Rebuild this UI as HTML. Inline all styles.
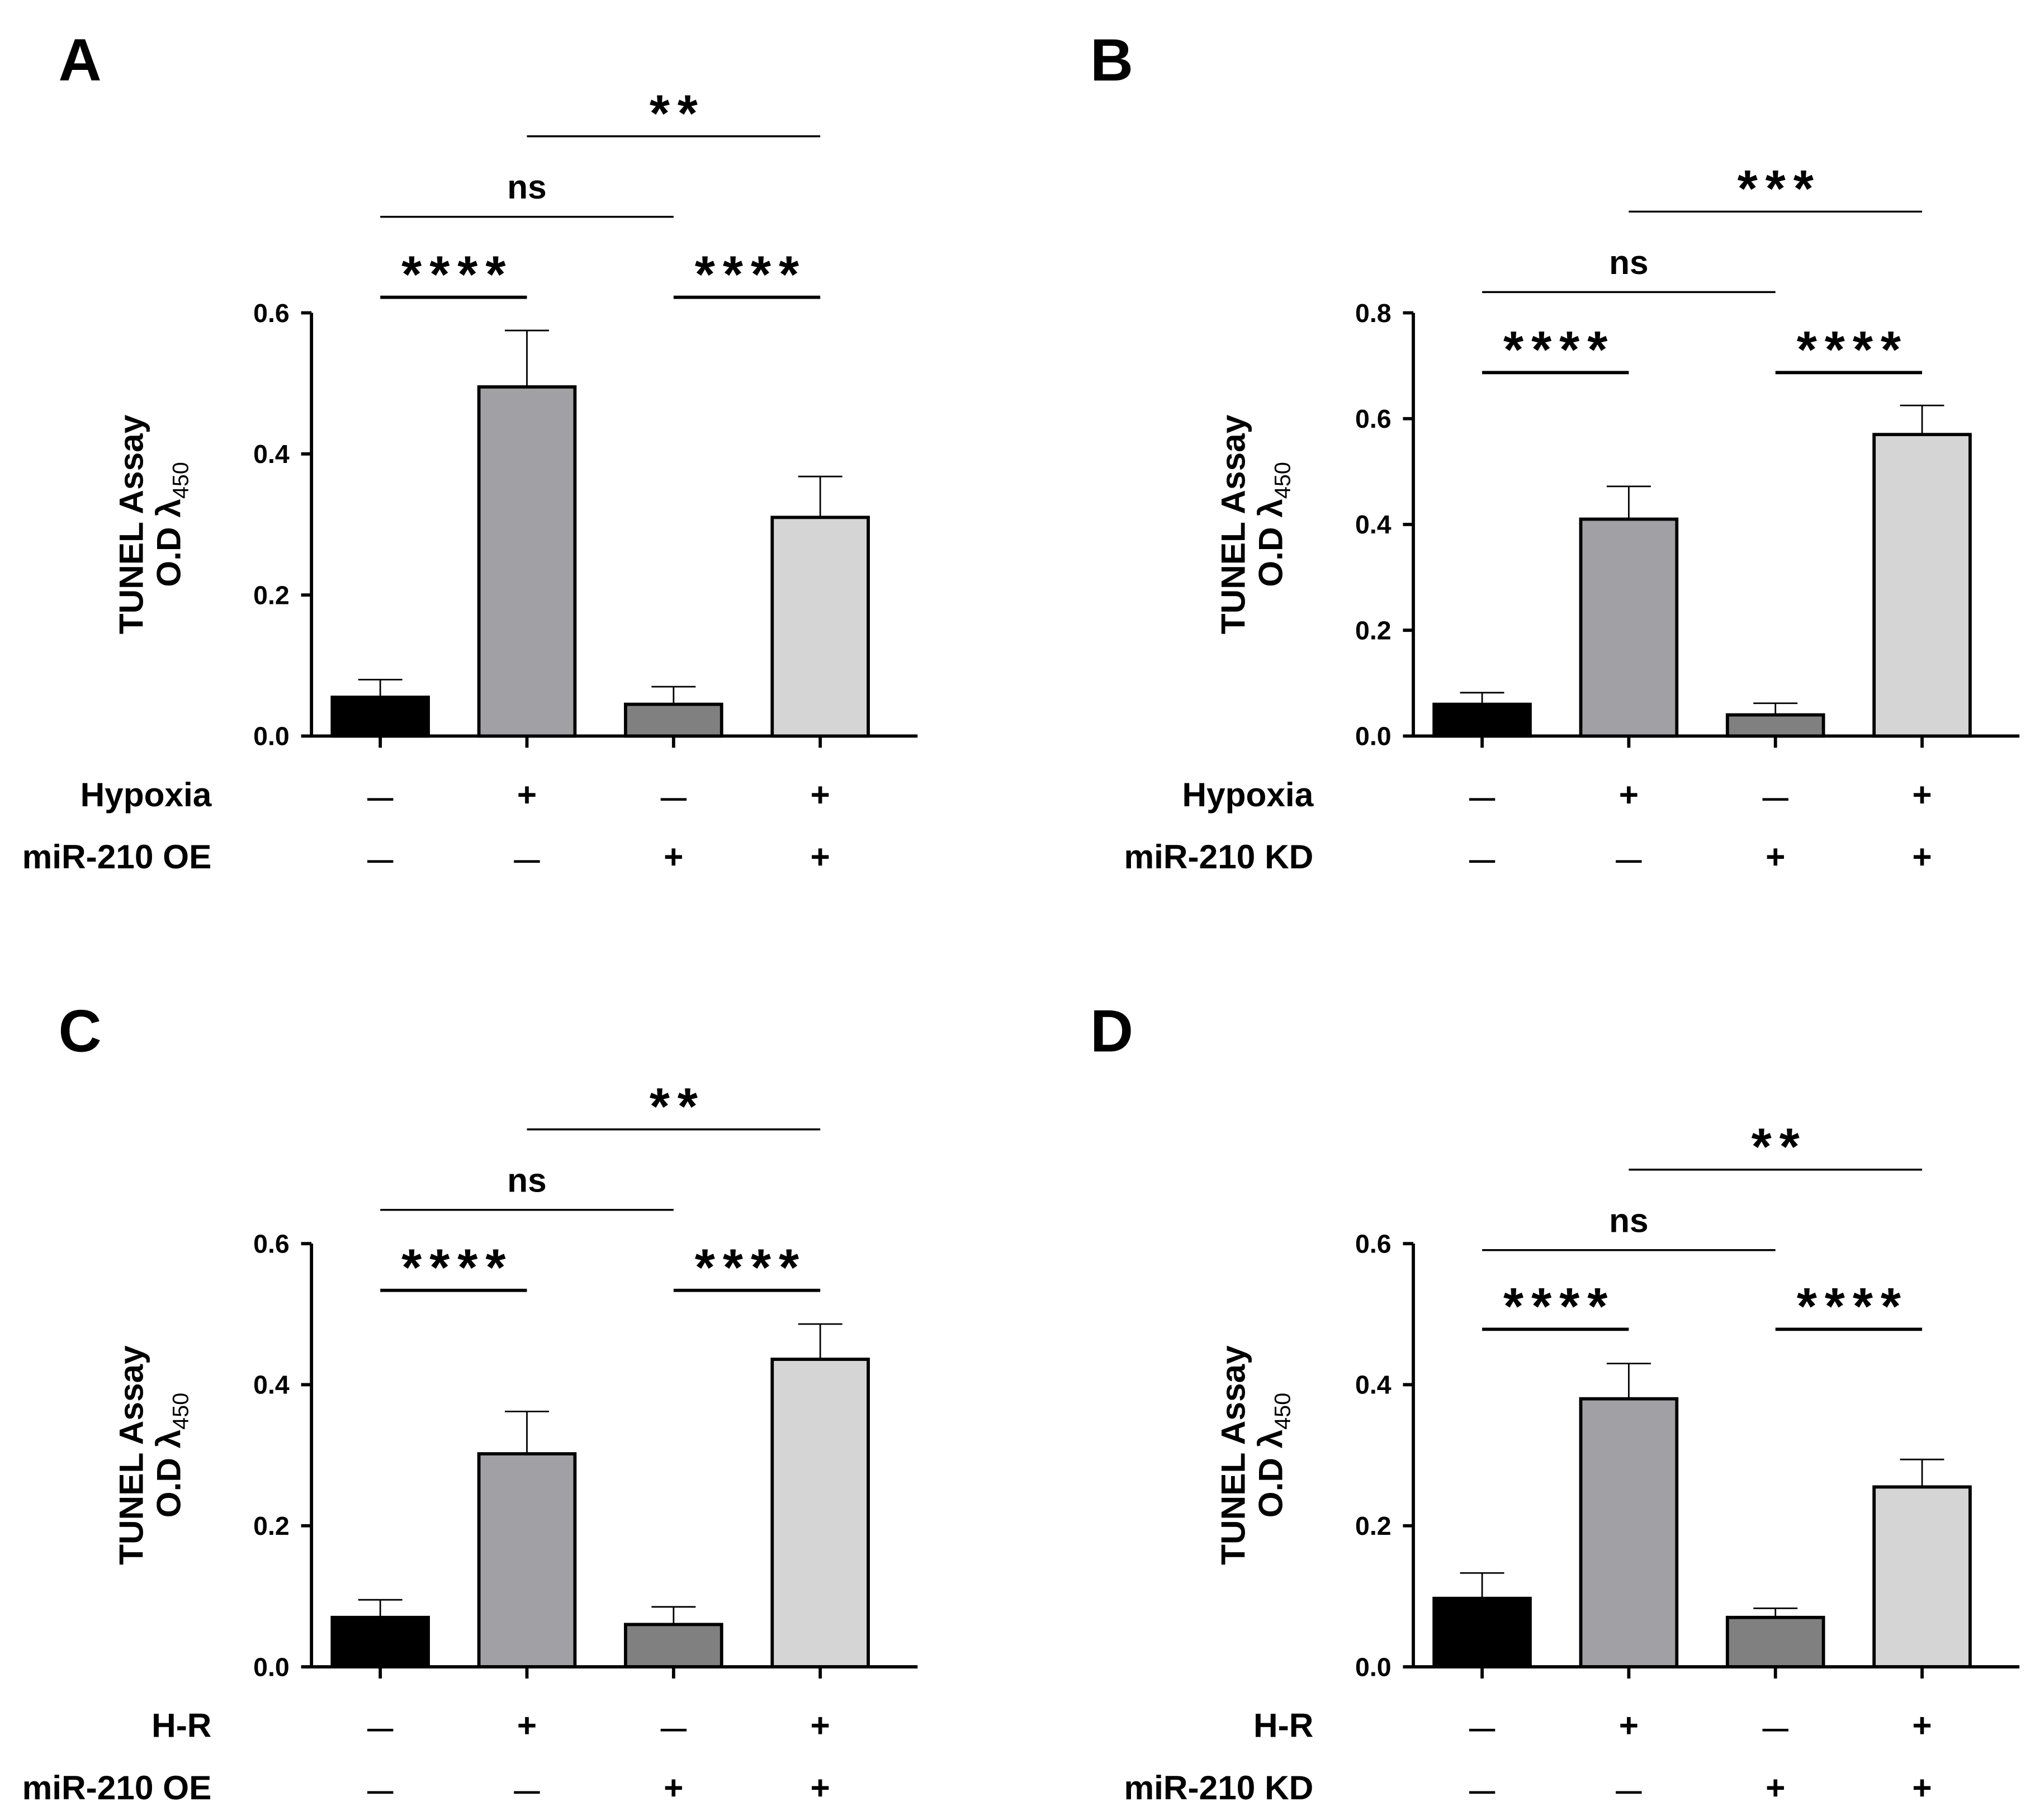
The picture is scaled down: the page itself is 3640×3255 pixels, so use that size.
<!DOCTYPE html>
<html><head><meta charset="utf-8"><style>
html,body{margin:0;padding:0;background:#fff}
svg{display:block}
text{font-family:"Liberation Sans",Arial,sans-serif;font-weight:bold;fill:#000}
</style></head><body>
<svg id="fig" width="3640" height="3255" viewBox="0 0 1568 1402" preserveAspectRatio="none" xmlns="http://www.w3.org/2000/svg"></svg>
<script>
const categories = ["ctrl","stress","mir","stress+mir"];
const colors = ["#000000","#a1a1a5","#808080","#d5d5d5"];
const valuesA = [0.055,0.495,0.045,0.31];
const errorsA = [0.025,0.08,0.025,0.058];
const valuesB = [0.06,0.41,0.04,0.57];
const errorsB = [0.022,0.062,0.022,0.055];
const valuesC = [0.07,0.302,0.06,0.436];
const errorsC = [0.025,0.06,0.025,0.05];
const valuesD = [0.097,0.38,0.07,0.255];
const errorsD = [0.036,0.05,0.013,0.039];
const ticks06 = [0,0.2,0.4,0.6];
const ticks08 = [0,0.2,0.4,0.6,0.8];
const sigA = ["****","****","ns","**"];
const sigB = ["****","****","ns","***"];
const sigC = ["****","****","ns","**"];
const sigD = ["****","****","ns","**"];
const row1A = ["—","+","—","+"], row2A = ["—","—","+","+"];

const NS="http://www.w3.org/2000/svg";
const svg=document.getElementById('fig');
function mk(tag,attrs,parent,txt){const e=document.createElementNS(NS,tag);for(const k in attrs)e.setAttribute(k,attrs[k]);if(txt!==undefined)e.textContent=txt;(parent||svg).appendChild(e);return e;}

const panels=[
 {id:"a",letter:"A",ax:240,y0:567,yTop:241,ymax:0.6,ticks:ticks06,vals:valuesA,errs:errorsA,sig:sigA,sigY:[229,229,167,105],r1:"Hypoxia",r2:"miR-210 OE",lx:45,ly:62},
 {id:"b",letter:"B",ax:1089,y0:567,yTop:241,ymax:0.8,ticks:ticks08,vals:valuesB,errs:errorsB,sig:sigB,sigY:[287,287,225,163],r1:"Hypoxia",r2:"miR-210 KD",lx:840,ly:62},
 {id:"c",letter:"C",ax:240,y0:1284,yTop:958,ymax:0.6,ticks:ticks06,vals:valuesC,errs:errorsC,sig:sigC,sigY:[994,994,932,870],r1:"H-R",r2:"miR-210 OE",lx:45,ly:810},
 {id:"d",letter:"D",ax:1089,y0:1284,yTop:958,ymax:0.6,ticks:ticks06,vals:valuesD,errs:errorsD,sig:sigD,sigY:[1024,1024,963,901],r1:"H-R",r2:"miR-210 KD",lx:840,ly:810}
];
const pairs=[[0,1],[2,3],[0,2],[1,3]];

panels.forEach(p=>{
  const g=mk('g',{});
  
  
  const yS=v=>p.y0-(v/p.ymax)*(p.y0-p.yTop);
  const xS=i=>p.ax+53+i*113;
  const L=mk('text',{x:p.lx,y:p.ly,'font-size':46},g,p.letter);
  
  
  p.vals.forEach((v,i)=>{
    const cx=xS(i),bw=74;
    const e=p.errs[i];
    const eb=mk('path',{d:`M${cx} ${yS(v)}V${yS(v+e)}M${cx-17} ${yS(v+e)}H${cx+17}`,stroke:'#000','stroke-width':1.2,fill:'none'},g);
    
    
    const r=mk('rect',{x:cx-bw/2,y:yS(v),width:bw,height:yS(0)-yS(v),fill:colors[i],stroke:'#000','stroke-width':2.5},g);
    
    
    const t=mk('line',{x1:cx,x2:cx,y1:p.y0,y2:p.y0+9,stroke:'#000','stroke-width':2.5},g);
    
    
    const s1=mk('text',{x:cx,y:p.y0+54,'text-anchor':'middle','font-size':row1A[i]==='+'?26:20},g,row1A[i]);
    
    
    const s2=mk('text',{x:cx,y:p.y0+102,'text-anchor':'middle','font-size':row2A[i]==='+'?26:20},g,row2A[i]);
    
    
  });
  const ya=mk('path',{d:`M${p.ax} ${p.yTop}V${p.y0}H${p.ax+467}`,stroke:'#000','stroke-width':2.5,fill:'none'},g);
  
  
  p.ticks.forEach(t=>{
    const l=mk('line',{x1:p.ax-8,x2:p.ax,y1:yS(t),y2:yS(t),stroke:'#000','stroke-width':2.5},g);
    
    
    const tl=mk('text',{x:p.ax-17,y:yS(t)+7,'text-anchor':'end','font-size':20},g,t.toFixed(1));
    
    
  });
  const cy=(p.y0+p.yTop)/2;
  const t1=mk('text',{transform:`translate(${p.ax-130},${cy}) rotate(-90)`,'text-anchor':'middle','font-size':26},g,'TUNEL Assay');
  
  
  const t2=mk('text',{transform:`translate(${p.ax-101},${cy}) rotate(-90)`,'text-anchor':'middle','font-size':26},g);
  
  
  mk('tspan',{},t2,'O.D λ');
  mk('tspan',{'font-size':17,dy:6,'font-weight':'normal'},t2,'450');
  const rl1=mk('text',{x:p.ax-77,y:p.y0+54,'text-anchor':'end','font-size':26},g,p.r1);
  
  
  const rl2=mk('text',{x:p.ax-77,y:p.y0+102,'text-anchor':'end','font-size':26},g,p.r2);
  
  
  pairs.forEach((pr,k)=>{
    const y=p.sigY[k];
    const ln=mk('line',{x1:xS(pr[0]),x2:xS(pr[1]),y1:y,y2:y,stroke:'#000','stroke-width':k<2?2.5:1.5},g);
    
    
    const star=p.sig[k]!=='ns';
    const st=mk('text',{x:(xS(pr[0])+xS(pr[1]))/2+(star?3:0),y:y-(star?4:14),'text-anchor':'middle','font-size':star?40:26,'letter-spacing':star?6:0},g,p.sig[k]);
    
    
  });
});
</script>
</body></html>
